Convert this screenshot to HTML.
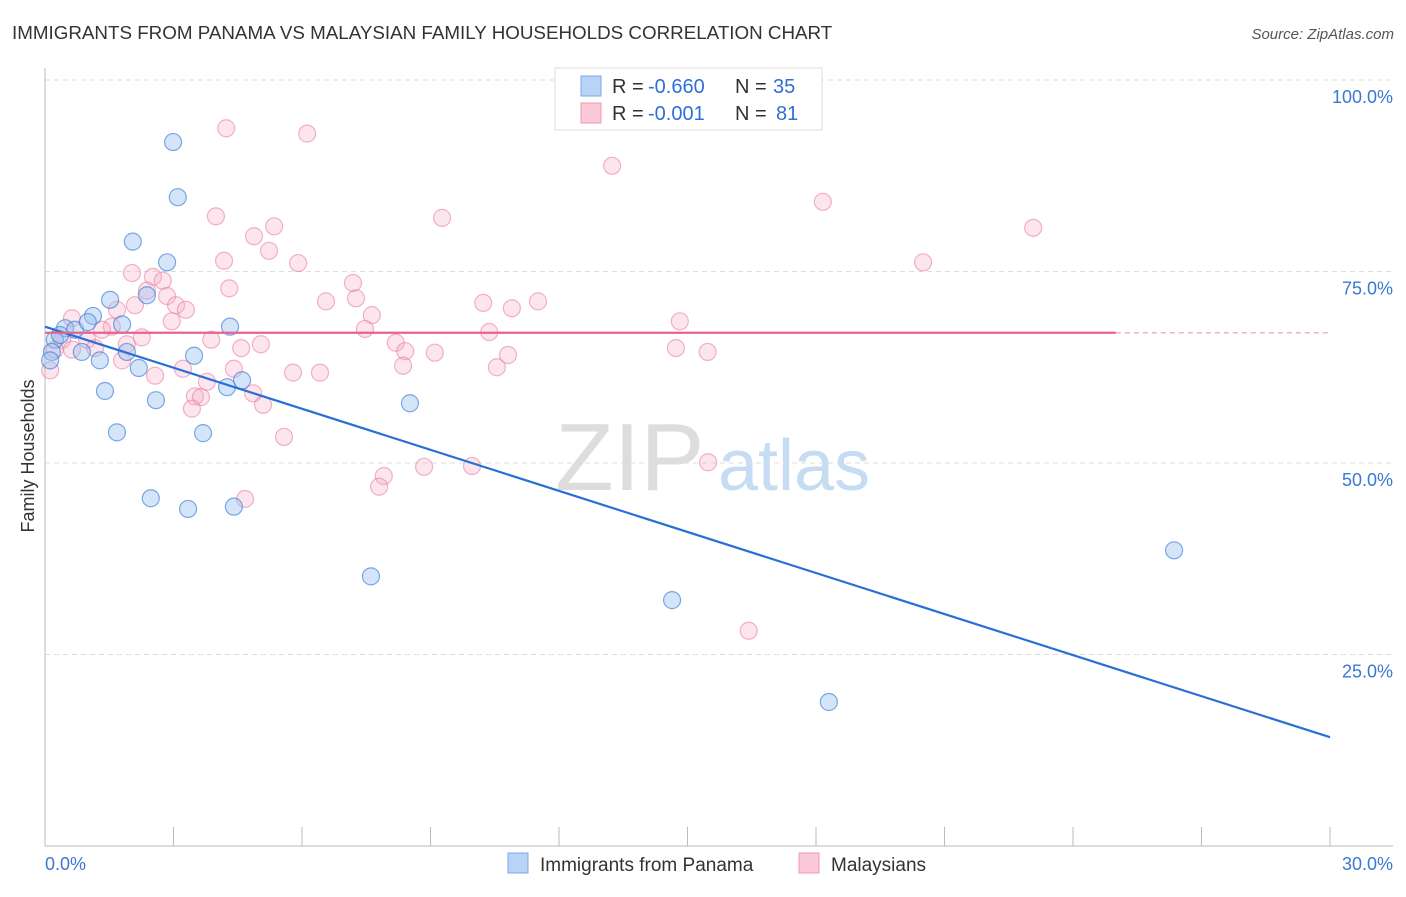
<!DOCTYPE html>
<html><head><meta charset="utf-8"><style>
body{margin:0;background:#fff;font-family:"Liberation Sans",sans-serif}
svg text{font-family:"Liberation Sans",sans-serif}
</style></head><body>
<svg id="chart" width="1406" height="892" viewBox="0 0 1406 892">
<text x="12" y="39" font-size="18.8" fill="#333">IMMIGRANTS FROM PANAMA VS MALAYSIAN FAMILY HOUSEHOLDS CORRELATION CHART</text>
<text x="1394" y="39" font-size="15" fill="#555" text-anchor="end" font-style="italic">Source: ZipAtlas.com</text>
<g>
<text x="555" y="490" font-size="96" fill="#ddd" font-family="Liberation Serif,serif">ZIP</text>
<text x="718" y="490" font-size="72" fill="#c6dcf2">atlas</text>
</g>
<g id="grid"></g>
<g id="axes"></g>
<g id="marks"></g>
<text transform="translate(34,456) rotate(-90)" font-size="18" fill="#333" text-anchor="middle">Family Households</text>
<g>
<rect x="555" y="68" width="267" height="62" fill="#fff" stroke="#ddd"/>
<rect x="581" y="76" width="20" height="20" fill="#b8d3f5" stroke="#7aa8e6"/>
<rect x="581" y="103" width="20" height="20" fill="#fbc9d8" stroke="#ef9ab4"/>
<text x="612" y="93" font-size="20" fill="#333">R =</text>
<text x="648" y="93" font-size="20" fill="#2f6fd6">-0.660</text>
<text x="735" y="93" font-size="20" fill="#333">N =</text>
<text x="773" y="93" font-size="20" fill="#2f6fd6">35</text>
<text x="612" y="120" font-size="20" fill="#333">R =</text>
<text x="648" y="120" font-size="20" fill="#2f6fd6">-0.001</text>
<text x="735" y="120" font-size="20" fill="#333">N =</text>
<text x="776" y="120" font-size="20" fill="#2f6fd6">81</text>
</g>
<g>
<rect x="508" y="853" width="20" height="20" fill="#b8d3f5" stroke="#7aa8e6"/>
<text x="540" y="871" font-size="19" fill="#333">Immigrants from Panama</text>
<rect x="799" y="853" width="20" height="20" fill="#fbc9d8" stroke="#ef9ab4"/>
<text x="831" y="871" font-size="19" fill="#333">Malaysians</text>
</g>
</svg>
<script>
const blueX=[2.99,3.10,2.05,2.85,1.52,2.38,1.12,1.80,4.32,0.47,0.70,1.00,0.23,0.16,0.86,1.91,1.28,3.48,2.19,4.60,4.25,1.40,2.59,8.52,1.68,3.69,2.47,3.34,4.41,7.61,26.36,14.64,18.30,0.12,0.35];
const blueY=[91.9,84.7,78.9,76.2,71.3,71.9,69.2,68.1,67.8,67.6,67.4,68.4,66.1,64.5,64.5,64.5,63.4,64.0,62.4,60.8,59.9,59.4,58.2,57.8,54.0,53.9,45.4,44.0,44.3,35.2,38.6,32.1,18.8,63.4,66.7];
const pinkX=[4.23,6.12,13.24,3.99,9.27,18.16,23.07,5.35,4.88,5.23,4.18,5.91,20.50,2.03,2.52,2.75,7.19,4.30,2.38,2.85,6.56,7.26,10.23,11.51,10.90,2.10,3.06,3.29,1.68,7.63,2.96,14.82,0.63,1.56,1.33,7.47,10.37,2.26,3.88,0.40,0.98,5.04,4.58,8.19,1.91,1.17,14.73,15.47,8.41,9.10,10.81,0.63,1.80,10.55,8.36,3.22,4.41,5.79,6.42,2.57,3.78,4.86,3.50,3.64,5.09,3.43,5.58,15.48,8.85,9.97,7.91,7.80,4.67,16.43,0.12,0.23];
const pinkY=[93.7,93.0,88.8,82.2,82.0,84.1,80.7,80.9,79.6,77.7,76.4,76.1,76.2,74.8,74.3,73.8,73.5,72.8,72.5,71.8,71.1,71.5,70.9,71.1,70.2,70.6,70.6,70.0,70.0,69.3,68.5,68.5,68.9,67.8,67.4,67.5,67.1,66.4,66.1,66.1,66.1,65.5,65.0,65.7,65.5,65.0,65.0,64.5,64.6,64.4,64.1,64.8,63.4,62.5,62.7,62.3,62.3,61.8,61.8,61.4,60.6,59.1,58.7,58.6,57.6,57.1,53.4,50.1,49.5,49.6,48.3,46.9,45.3,28.1,62.1,64.8];
const blueTrend=[67.8,14.2];
const pinkTrend=[67.0,67.0];
const yTicks=[100,75,50,25];
const yTickLabels=["100.0%","75.0%","50.0%","25.0%"];
const xTicks=[0,3,6,9,12,15,18,21,24,27,30];
const NS="http://www.w3.org/2000/svg";
const X=v=>45+v/30*1285, Y=v=>846-v/100*766;
function mk(p,tag,a){const e=document.createElementNS(NS,tag);for(const k in a)e.setAttribute(k,a[k]);p.appendChild(e);return e;}
const grid=document.getElementById('grid'),axes=document.getElementById('axes'),marks=document.getElementById('marks');
yTicks.forEach((t,i)=>{
 const l=mk(grid,'line',{x1:45,x2:1393,y1:Y(t),y2:Y(t),stroke:'#ddd','stroke-dasharray':'5,4'});
 
 
 const tx=mk(grid,'text',{x:1393,y:Y(t)+23,'font-size':18,fill:'#3a78d4','text-anchor':'end'});
 tx.textContent=yTickLabels[i];
 
 
});
let a=mk(axes,'line',{x1:45,x2:45,y1:68,y2:846,stroke:'#bbb'});


a=mk(axes,'line',{x1:45,x2:1393,y1:846,y2:846,stroke:'#bbb'});


xTicks.forEach(t=>{
 const l=mk(axes,'line',{x1:X(t),x2:X(t),y1:827,y2:846,stroke:'#bbb'});
 
 
});
let t0=mk(axes,'text',{x:45,y:870,'font-size':18,fill:'#3a78d4'});t0.textContent='0.0%';


let t1=mk(axes,'text',{x:1393,y:870,'font-size':18,fill:'#3a78d4','text-anchor':'end'});t1.textContent='30.0%';


pinkX.forEach((x,i)=>{
 const c=mk(marks,'circle',{cx:X(x),cy:Y(pinkY[i]),r:8.5,fill:'rgba(246,170,195,0.3)',stroke:'rgba(232,120,155,0.55)','stroke-width':1.2});
 
 
});
blueX.forEach((x,i)=>{
 const c=mk(marks,'circle',{cx:X(x),cy:Y(blueY[i]),r:8.5,fill:'rgba(150,190,240,0.4)',stroke:'rgba(60,125,215,0.65)','stroke-width':1.2});
 
 
});
let bt=mk(marks,'line',{x1:X(0),y1:Y(blueTrend[0]),x2:X(30),y2:Y(blueTrend[1]),stroke:'#2a6fd6','stroke-width':2.2});


let pt=mk(marks,'line',{x1:X(0),y1:Y(pinkTrend[0]),x2:X(25),y2:Y(pinkTrend[1]),stroke:'#e8628e','stroke-width':2.2});


let pd=mk(marks,'line',{x1:X(25),y1:Y(pinkTrend[1]),x2:X(30),y2:Y(pinkTrend[1]),stroke:'#f0b0c5','stroke-width':1.5,'stroke-dasharray':'5,4'});


</script>
</body></html>
